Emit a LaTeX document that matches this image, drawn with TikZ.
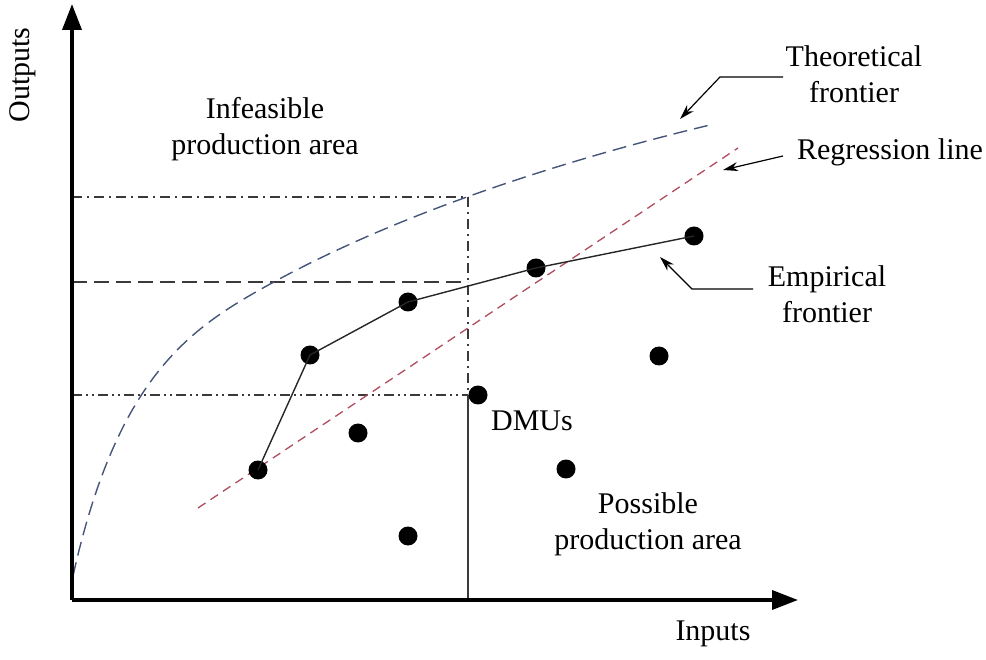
\documentclass[tikz,border=0pt]{standalone}
\usepackage{fontspec}
\setmainfont{Liberation Serif}
\usetikzlibrary{arrows.meta}
\definecolor{theo}{HTML}{45557A}
\definecolor{regr}{HTML}{B05060}
\definecolor{guide}{HTML}{3A3A3A}
\tikzset{
  lbl/.style={font=\fontsize{30}{36}\selectfont, align=center, inner sep=0pt},
  axis/.style={line width=3.6pt, -{Triangle[length=26pt,width=19pt]}},
  dmu/.style={circle, fill=black, minimum size=19pt, inner sep=0pt},
  callout/.style={line width=1.2pt, -{Stealth[length=15pt,width=9pt]}},
  guidedashdot/.style={guide, line width=1.3pt, dash pattern=on 10pt off 5pt on 2pt off 5pt},
  guidelong/.style={guide, line width=1.3pt, dash pattern=on 15pt off 7pt},
  guidedashdotdot/.style={guide, line width=1.3pt, dash pattern=on 10pt off 4pt on 2pt off 4pt on 2pt off 4pt},
  theoline/.style={theo, line width=1.4pt, dash pattern=on 14pt off 7pt},
  regrline/.style={regr, line width=1.3pt, dash pattern=on 9pt off 6pt},
  empline/.style={line width=1.4pt, black!85}
}
\begin{document}
\begin{tikzpicture}[x=1pt, y=-1pt]
\useasboundingbox (0,0) rectangle (986,660);

% origin and axes
\coordinate (O) at (72,600);
\coordinate (ytip) at (72,4);
\coordinate (xtip) at (798,600);

% guide coordinates
\coordinate (g1l) at (72,197);
\coordinate (g1r) at (468,197);
\coordinate (g2l) at (72,282);
\coordinate (g2r) at (468,282);
\coordinate (g3l) at (72,395);
\coordinate (g3r) at (468,395);
\coordinate (gb) at (468,600);

% guide lines
\draw[guidedashdot] (g1l) -- (g1r);
\draw[guidelong] (g2l) -- (g2r);
\draw[guidedashdotdot] (g3l) -- (g3r);
\draw[guidedashdot] (g1r) -- (g3r);
\draw[guide, line width=1.3pt] (g3r) -- (gb);

% theoretical frontier
\coordinate (t0) at (73,576);
\coordinate (t1) at (272,283);
\coordinate (t2) at (710,125);
\draw[theoline] (t0) .. controls (118,373.5) and (192,327) .. (t1)
  .. controls (402,211.5) and (570,158.6) .. (t2);

% regression line
\coordinate (r1) at (198,508);
\coordinate (r2) at (738,148);
\draw[regrline] (r1) -- (r2);

% empirical frontier DMUs
\node[dmu] (e1) at (258,470) {};
\node[dmu] (e2) at (310,355) {};
\node[dmu] (e3) at (408,302) {};
\node[dmu] (e4) at (536,268) {};
\node[dmu] (e5) at (694,236) {};
\draw[empline] (e1.center) -- (e2.center) -- (e3.center) -- (e4.center) -- (e5.center);

% other DMUs
\node[dmu] (d1) at (358,433) {};
\node[dmu] (d2) at (408,536) {};
\node[dmu] (d3) at (478,395) {};
\node[dmu] (d4) at (566,469) {};
\node[dmu] (d5) at (659,356) {};

% axes
\draw[axis] (O) -- (ytip);
\draw[axis] (O) -- (xtip);

% labels
\node[lbl, rotate=90] (outl) at (23,75) {Outputs};
\node[lbl] (inl) at (713,634) {Inputs};
\node[lbl] (infl) at (265,129) {Infeasible\\production area};
\node[lbl] (dmul) at (532,421) {DMUs};
\node[lbl] (posl) at (648,524) {Possible\\production area};
\node[lbl] (theol) at (854,74) {Theoretical\\frontier};
\node[lbl] (regl) at (890,152) {Regression line};
\node[lbl] (empl) at (827,294) {Empirical\\frontier};

% callouts
\coordinate (ct0) at (783,77);
\coordinate (ct1) at (720,77);
\coordinate (ct2) at (680,119);
\draw[callout] (ct0) -- (ct1) -- (ct2);

\coordinate (cr0) at (783,156);
\coordinate (cr1) at (723,170);
\draw[callout] (cr0) -- (cr1);

\coordinate (ce0) at (753,289);
\coordinate (ce1) at (692,289);
\coordinate (ce2) at (660,257);
\draw[callout] (ce0) -- (ce1) -- (ce2);
\end{tikzpicture}
\end{document}
